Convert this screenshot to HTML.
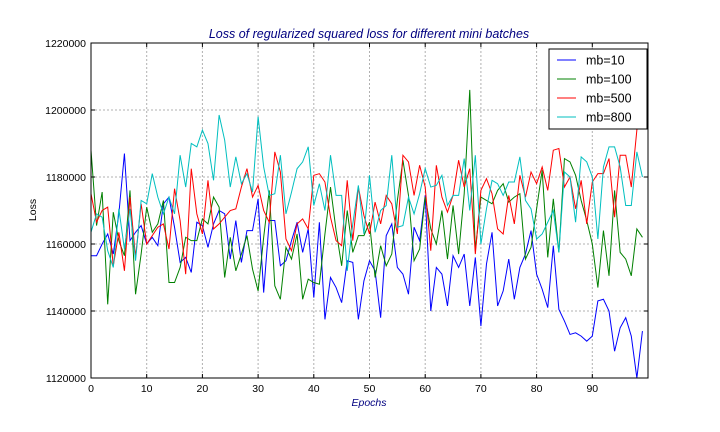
<!DOCTYPE html>
<html><head><meta charset="utf-8"><style>
body{margin:0;background:#fff;}
svg{display:block;font-family:"Liberation Sans",sans-serif;}
</style></head><body>
<svg id="chart" width="720" height="432">
<rect x="0" y="0" width="720" height="432" fill="#fff"/>
<text x="369" y="38" text-anchor="middle" font-size="12.5" font-style="italic" fill="#000080">Loss of regularized squared loss for different mini batches</text>
<text x="369" y="406" text-anchor="middle" font-size="10.5" font-style="italic" fill="#000080">Epochs</text>
<text x="36" y="210" text-anchor="middle" font-size="10.5" fill="#000" transform="rotate(-90 36 210)">Loss</text>
<g id="grid"></g><g id="series"></g><g id="ticks"></g>
<rect x="91" y="43" width="557" height="335" fill="none" stroke="#000" stroke-width="1"/>
<g id="legend"></g>
</svg>
<script>
// values in thousands
const epochs = Array.from({length:100},(_,i)=>i);
const xTicks = [0,10,20,30,40,50,60,70,80,90];
const yTicks = [1120,1140,1160,1180,1200,1220];
const yTickLabels = ["1120000","1140000","1160000","1180000","1200000","1220000"];
const seriesNames = ["mb=10","mb=100","mb=500","mb=800"];
const seriesColors = ["#0000ff","#008000","#ff0000","#00bfbf"];
const mb10 = [1156.5,1156.5,1160,1163,1157,1169,1187,1161,1163.5,1165.5,1160,1162,1159.5,1172,1174,1165,1154.5,1156,1151.5,1166.5,1165.5,1159,1166,1170,1169,1155.5,1167,1154.5,1164,1164,1173.5,1145.5,1167,1167,1153.5,1155,1161,1166.5,1157.5,1164.5,1144,1166.5,1137.5,1150,1147,1142.5,1155,1154.5,1137.5,1149,1155,1152,1138,1162.5,1166,1153,1151,1145,1165,1161,1174.5,1140,1153,1151,1141.5,1156.5,1153,1157,1141.5,1156,1135.5,1154,1163.5,1141.5,1146,1155.5,1143.5,1153,1157,1164,1151,1146.5,1141,1159.5,1140.5,1137,1133,1133.5,1132.5,1131,1132.5,1143,1143.5,1140,1128,1135,1138,1132.5,1120,1134];
const mb100 = [1188,1165.5,1175.5,1142,1169.5,1161,1156.5,1176,1145,1157,1171,1163.5,1166,1173,1148.5,1148.5,1153,1162,1161,1161,1167.5,1166,1174,1171,1150,1162,1152,1157,1162.5,1152.5,1146,1162,1176,1147.5,1143.5,1159,1155.5,1163,1143.5,1149.5,1148.5,1148,1163,1177,1164,1153.5,1170,1157.5,1162.5,1162.5,1166.5,1150,1159.5,1153.5,1157,1173,1185,1174.5,1155,1158.5,1174,1164.5,1160,1170,1155.5,1171.5,1157,1175,1206,1158,1174,1173,1172,1176,1178,1172.5,1174,1175,1155.5,1159,1170.5,1182,1156,1173.5,1157.5,1185.5,1184.5,1180.5,1173,1167,1160,1147,1164,1150.5,1176,1157.5,1155.5,1150.5,1164.5,1162];
const mb500 = [1175,1166.5,1170,1171,1153.5,1163.5,1152,1174,1156,1172,1160,1162.5,1165,1166,1158.5,1176.5,1167,1151,1182.5,1169,1163,1179,1164.5,1166,1168,1170,1170.5,1177,1182.5,1174,1177.5,1170,1166.5,1187.5,1181.5,1161.5,1158,1166,1167.5,1164.5,1180.5,1181,1178.5,1168,1161,1159.5,1179,1161,1177,1168.5,1163,1172.5,1166,1174.5,1172,1163,1186.5,1184.5,1174.5,1183.5,1177,1158,1183.5,1174,1169.5,1174.5,1185,1177,1182.5,1157,1176,1179.5,1175,1164.5,1163,1174.5,1166,1180.5,1174,1181.5,1178,1183,1176,1188,1188.5,1177,1180,1170.5,1179,1166,1178.5,1181,1181,1185.5,1168,1186.5,1186.5,1177,1194,1208];
const mb800 = [1163.5,1169,1168,1158,1153,1170.5,1158.5,1170.5,1155,1173,1172,1181,1174,1169,1174,1169,1186.5,1177,1190,1189,1194,1190,1179,1198.5,1191,1177,1186,1178,1181,1175.5,1198,1183,1174.5,1175,1186.5,1169,1175.5,1182.5,1184.5,1189,1171.5,1178,1170,1186.5,1174.5,1174.5,1152,1166,1177.5,1163,1180.5,1163.5,1170,1171.5,1186.5,1165,1165.5,1174,1169,1175,1182.5,1177,1177.5,1180.5,1171.5,1174.5,1174.5,1185.5,1170,1186.5,1160,1170.5,1179,1178,1174.5,1178.5,1178.5,1186,1173,1170.5,1161.5,1163,1166.5,1170,1157.5,1181.5,1180,1166.5,1186,1184.5,1180,1161.5,1183,1189,1189,1183,1171.5,1171.5,1187.5,1180];
const allSeries = [mb10,mb100,mb500,mb800];

const X0=91,X1=648,Y0=378,Y1=43;
const xs = v => X0 + (v-0)/(100-0)*(X1-X0);
const ys = v => Y0 - (v-1120)/(1220-1120)*(Y0-Y1);
const NS="http://www.w3.org/2000/svg";
function mk(tag,attrs,parent){const e=document.createElementNS(NS,tag);for(const k in attrs)e.setAttribute(k,attrs[k]);parent.appendChild(e);return e;}
const grid=document.getElementById('grid'),ticks=document.getElementById('ticks'),ser=document.getElementById('series'),leg=document.getElementById('legend');
xTicks.forEach(t=>{
  const x=xs(t);
  if(t>0){const g=mk('line',{x1:x,x2:x,y1:Y1,y2:Y0,stroke:'#b0b0b0','stroke-dasharray':'2,2','stroke-width':1},grid);
  
  }
  mk('line',{x1:x,x2:x,y1:Y0,y2:Y0-4,stroke:'#000'},ticks);
  mk('line',{x1:x,x2:x,y1:Y1,y2:Y1+4,stroke:'#000'},ticks);
  const tx=mk('text',{x:x,y:Y0+14,'text-anchor':'middle','font-size':10.5,fill:'#000'},ticks);
  tx.textContent=t;
  
  
});
yTicks.forEach((t,i)=>{
  const y=ys(t);
  if(t>1120&&t<1220){const g=mk('line',{x1:X0,x2:X1,y1:y,y2:y,stroke:'#b0b0b0','stroke-dasharray':'2,2','stroke-width':1},grid);
  
  }
  mk('line',{x1:X0,x2:X0+4,y1:y,y2:y,stroke:'#000'},ticks);
  mk('line',{x1:X1,x2:X1-4,y1:y,y2:y,stroke:'#000'},ticks);
  const tx=mk('text',{x:X0-5,y:y+4,'text-anchor':'end','font-size':10.5,fill:'#000'},ticks);
  tx.textContent=yTickLabels[i];
  
  
});
const cp=mk('clipPath',{id:'clip'},document.getElementById('chart'));
mk('rect',{x:X0,y:Y1,width:X1-X0,height:Y0-Y1},cp);
allSeries.forEach((s,k)=>{
  const p=mk('polyline',{points:s.map((v,i)=>xs(epochs[i])+','+ys(v)).join(' '),fill:'none',stroke:seriesColors[k],'stroke-width':1,'clip-path':'url(#clip)'},ser);
  
  
});
const box=mk('rect',{x:549,y:49,width:98,height:80,fill:'#fff',stroke:'#000','stroke-width':1},leg);


seriesNames.forEach((n,k)=>{
  const y=60+k*19;
  mk('line',{x1:557,x2:576,y1:y,y2:y,stroke:seriesColors[k]},leg);
  const t=mk('text',{x:586,y:y+4.5,'font-size':12.5,fill:'#000'},leg);
  t.textContent=n;
  
  
});
</script>
</body></html>
